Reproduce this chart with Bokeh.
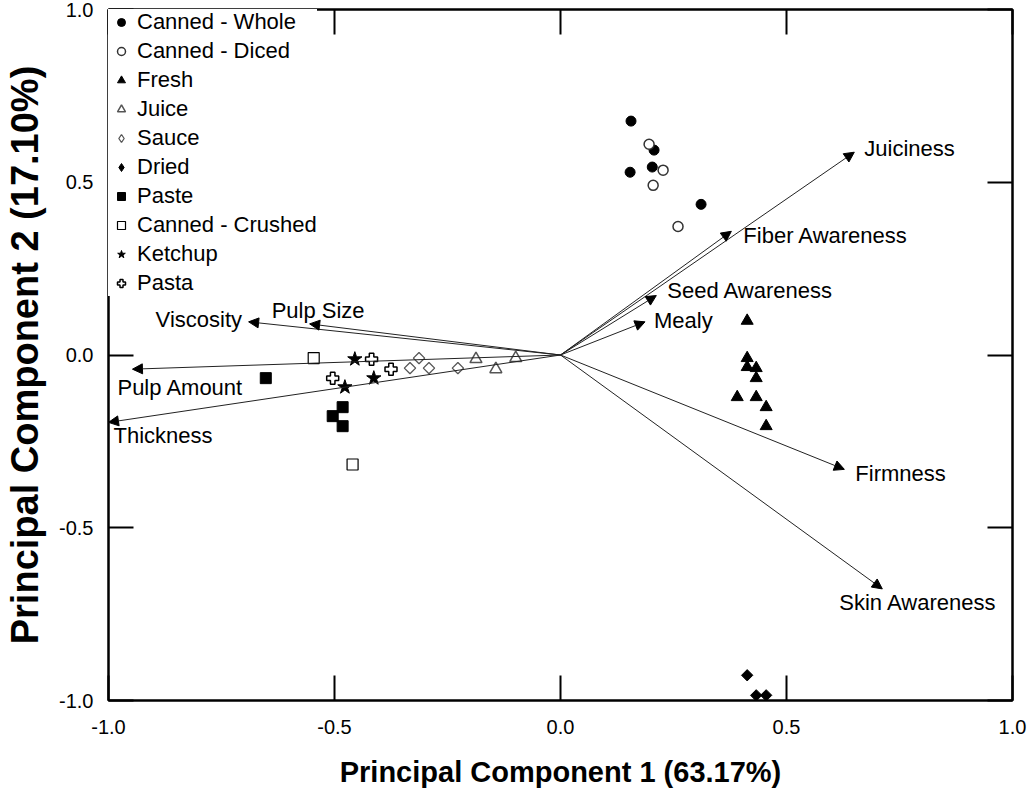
import math

from bokeh.plotting import figure
from bokeh.core.properties import value
from bokeh.models import (Range1d, FixedTicker, CustomJSTickFormatter, LinearAxis,
                          Legend, LegendItem, Arrow, NormalHead, ColumnDataSource, LabelSet,
                          CustomLabelingPolicy)
from bokeh.embed import file_html
from bokeh.resources import INLINE

# --- PCA scores per product type (PC1, PC2) ---
canned_whole_x = [0.156, 0.207, 0.154, 0.203, 0.311]
canned_whole_y = [0.677, 0.593, 0.529, 0.544, 0.436]

canned_diced_x = [0.196, 0.227, 0.205, 0.260]
canned_diced_y = [0.610, 0.535, 0.491, 0.372]

fresh_x = [0.413, 0.413, 0.413, 0.433, 0.433, 0.391, 0.433, 0.455, 0.455]
fresh_y = [0.099, -0.009, -0.035, -0.038, -0.067, -0.122, -0.122, -0.151, -0.206]

juice_x = [-0.187, -0.099, -0.143]
juice_y = [-0.012, -0.009, -0.041]

sauce_x = [-0.313, -0.333, -0.291, -0.227]
sauce_y = [-0.009, -0.038, -0.038, -0.038]

dried_x = [0.413, 0.433, 0.455]
dried_y = [-0.927, -0.985, -0.985]

paste_x = [-0.652, -0.482, -0.504, -0.482]
paste_y = [-0.067, -0.151, -0.177, -0.206]

crushed_x = [-0.546, -0.460]
crushed_y = [-0.009, -0.317]

ketchup_x = [-0.455, -0.413, -0.477]
ketchup_y = [-0.012, -0.067, -0.093]

pasta_x = [-0.418, -0.375, -0.504]
pasta_y = [-0.012, -0.041, -0.067]

# --- attribute loadings (arrow tips) ---
attributes = ["Juiciness", "Fiber Awareness", "Seed Awareness", "Mealy", "Firmness",
              "Skin Awareness", "Viscosity", "Pulp Size", "Pulp Amount", "Thickness"]
loading_x = [0.650, 0.378, 0.212, 0.187, 0.628, 0.712, -0.690, -0.555, -0.947, -1.0]
loading_y = [0.587, 0.358, 0.172, 0.096, -0.331, -0.677, 0.096, 0.090, -0.041, -0.195]

# label placement relative to each arrow tip, in screen pixels
label_dx = [10, 12, 11, 9, 11, -43, -93, -38, -15, 5]
label_dy = [4, -4, 5, 1, -4, -14, 2, 13, -18, -13]

tick_values = [-1.0, -0.5, 0.0, 0.5, 1.0]

FONT = "Liberation Sans"

p = figure(width=1027, height=793, x_range=Range1d(-1, 1), y_range=Range1d(-1, 1),
           output_backend="svg", toolbar_location=None,
           min_border_left=108, min_border_right=15, min_border_top=9, min_border_bottom=93)
p.grid.visible = False
p.outline_line_color = "black"
p.outline_line_width = 2
p.background_fill_color = "white"
p.border_fill_color = "white"

fmt = CustomJSTickFormatter(code="return tick.toFixed(1)")

# mirror axes on top/right carry only inward ticks, no labels
no_labels = CustomLabelingPolicy(code="""
try { for (let i = 0; i < indices.size; i++) indices.unset(i) } catch (e) {}
return indices
""")


def style_axis(ax, show_labels):
    ax.ticker = FixedTicker(ticks=tick_values)
    ax.formatter = fmt
    ax.major_tick_in = 25
    ax.major_tick_out = 0
    ax.major_tick_line_width = 2
    ax.major_tick_line_color = "black"
    ax.minor_tick_line_color = None
    ax.axis_line_color = "black"
    ax.axis_line_width = 2
    if show_labels:
        ax.major_label_text_font = FONT
        ax.major_label_text_font_size = "20px"
        ax.major_label_text_color = "black"
    else:
        ax.major_label_policy = no_labels
        ax.major_label_text_font_size = "1px"
        ax.major_label_standoff = 0


style_axis(p.xaxis[0], True)
style_axis(p.yaxis[0], True)
p.xaxis.major_label_standoff = 19
p.yaxis.major_label_standoff = 15

p.xaxis.axis_label = "Principal Component 1 (63.17%)"
p.xaxis.axis_label_text_font = FONT
p.xaxis.axis_label_text_font_size = "29px"
p.xaxis.axis_label_text_font_style = "bold"
p.xaxis.axis_label_text_color = "black"
p.xaxis.axis_label_standoff = 19

p.yaxis.axis_label = "Principal Component 2 (17.10%)"
p.yaxis.axis_label_text_font = FONT
p.yaxis.axis_label_text_font_size = "38px"
p.yaxis.axis_label_text_font_style = "bold"
p.yaxis.axis_label_text_color = "black"
p.yaxis.axis_label_standoff = 10

right_axis = LinearAxis()
style_axis(right_axis, False)
p.add_layout(right_axis, "right")
top_axis = LinearAxis()
style_axis(top_axis, False)
p.add_layout(top_axis, "above")

# --- loading vectors ---
vec_src = ColumnDataSource(dict(x0=[0.0] * len(attributes), y0=[0.0] * len(attributes),
                                x=loading_x, y=loading_y, name=attributes,
                                dx=label_dx, dy=label_dy))
p.add_layout(Arrow(end=NormalHead(size=10, fill_color="black", line_color="black", line_width=1),
                   x_start="x0", y_start="y0", x_end="x", y_end="y", source=vec_src,
                   line_color="#222222", line_width=1))
p.add_layout(LabelSet(x="x", y="y", text="name", x_offset="dx", y_offset="dy", source=vec_src,
                      text_font=value(FONT), text_font_size="22px", text_color="black",
                      text_align="left", text_baseline="middle"))

# --- product scores ---
# (label, x, y, marker, size, angle, fill, line colour, line width, legend marker)
groups = [
    ("Canned - Whole", canned_whole_x, canned_whole_y, "circle", 10, 0, "black", "black", 1, None),
    ("Canned - Diced", canned_diced_x, canned_diced_y, "circle", 10, 0, "white", "#333333", 1.5, None),
    ("Fresh", fresh_x, fresh_y, "triangle", 12, 0, "black", "black", 1, None),
    ("Juice", juice_x, juice_y, "triangle", 12, 0, "white", "#555555", 1.5, None),
    ("Sauce", sauce_x, sauce_y, "square", 8, math.pi / 4, "white", "#555555", 1.3, "diamond"),
    ("Dried", dried_x, dried_y, "square", 8, math.pi / 4, "black", "black", 1, "diamond"),
    ("Paste", paste_x, paste_y, "square", 11, 0, "black", "black", 1, None),
    ("Canned - Crushed", crushed_x, crushed_y, "square", 11, 0, "white", "black", 1.2, None),
    ("Ketchup", ketchup_x, ketchup_y, "star", 15, 0, "black", "black", 1, None),
    ("Pasta", pasta_x, pasta_y, "plus", 12, 0, "white", "black", 1.5, None),
]

items = []
for label, xs, ys, marker, size, angle, fill, line, lw, key_marker in groups:
    key = None
    if key_marker is not None:
        # legend keys are drawn unrotated, so diamonds get a small upright
        # diamond glyph for the key; it sits inside the rotated square drawn over it
        key = p.scatter(xs, ys, marker=key_marker, size=7, fill_color=fill,
                        line_color=line, line_width=lw)
    r = p.scatter(xs, ys, marker=marker, size=size, angle=angle, fill_color=fill,
                  line_color=line, line_width=lw)
    items.append(LegendItem(label=label, renderers=[key if key is not None else r]))

legend = Legend(items=items, location="top_left", margin=0, padding=0,
                glyph_width=26, glyph_height=20, label_height=25, label_standoff=3,
                spacing=3, border_line_color=None, background_fill_color="white",
                background_fill_alpha=1.0, label_text_font=FONT,
                label_text_font_size="22px", label_text_color="black")
p.add_layout(legend)

open("out.html", "w").write(file_html(p, INLINE))
